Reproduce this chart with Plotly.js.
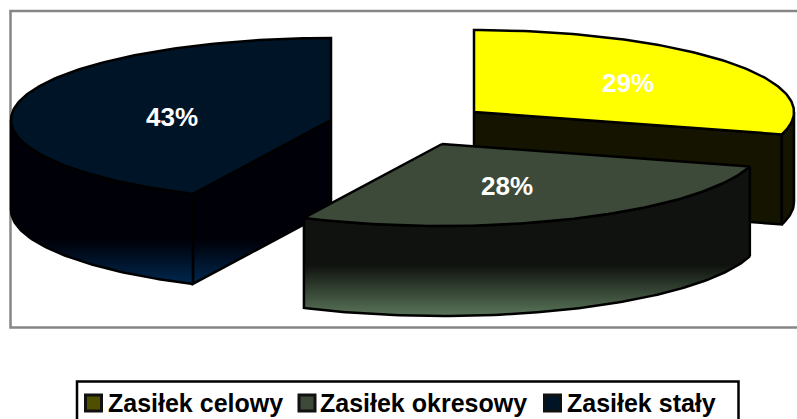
<!DOCTYPE html>
<html><head><meta charset="utf-8">
<script src="https://cdn.plot.ly/plotly-3.0.1.min.js"></script>
<style>html,body{margin:0;padding:0;background:#fff;overflow:hidden}#c{width:797px;height:419px}</style>
</head><body><div id="c"></div>
<script>
// Data
const categories = ['Zasiłek celowy', 'Zasiłek okresowy', 'Zasiłek stały'];
const shares = [29.4, 27.7, 42.9];
// Styles
const topColors = ['#ffff00', '#3d4a3a', '#001428'];
const swatchColors = ['#4f4f00', '#3d4a3a', '#001428'];
const wallDark = ['#141400', '#0f120e', '#000008'];
const wallLight = ['#141400', '#5a7559', '#00284f'];
const gradStart = [112, 265, 240];
const gradStop = [224, 316, 284];
// Layout of the exploded pie: one centre per slice, in pixel-like axis units
const centerX = [474, 442, 331];
const centerY = [112, 144, 120];
const Rx = 320, Ry = 82, depth = 90;
const labelX = [628, 507, 172];
const labelY = [83, 186, 117];
const legendSwatchX = [93.5, 307, 552.5];
const legendTextX = [106, 318, 565];
const legendY = 403;
const drawOrder = [2, 0, 1];

const total = shares.reduce((a, b) => a + b, 0);
const angles = [0];
shares.forEach((s, i) => angles.push(angles[i] + s / total * 360));

function arc(cx, cy, a0, a1) {
  const xs = [], ys = [], n = Math.max(2, Math.ceil(Math.abs(a1 - a0)));
  for (let k = 0; k <= n; k++) {
    const a = (a0 + (a1 - a0) * k / n) * Math.PI / 180;
    xs.push(cx + Rx * Math.sin(a));
    ys.push(cy - Ry * Math.cos(a));
  }
  return [xs, ys];
}
function wall(i, xs, ys) {
  return {
    type: 'scatter', mode: 'lines', x: xs, y: ys, fill: 'toself',
    fillgradient: {
      type: 'vertical', start: gradStart[i], stop: gradStop[i],
      colorscale: [[0, wallDark[i]], [1, wallLight[i]]]
    },
    line: {color: '#000', width: 2.5}, hoverinfo: 'skip', showlegend: false
  };
}
const traces = [];
drawOrder.forEach(i => {
  const cx = centerX[i], cy = centerY[i], a0 = angles[i], a1 = angles[i + 1];
  // cut faces that look towards the viewer
  [a0, a1].forEach(a => {
    if ((i === 0 && a === a1) || (i === 2 && a === a0)) {
      const [px, py] = arc(cx, cy, a, a);
      const ex = px[0], ey = py[0];
      traces.push(wall(i, [cx, ex, ex, cx, cx], [cy, ey, ey + depth, cy + depth, cy]));
    }
  });
  // outer rim, front half only
  const r0 = Math.max(a0, 90), r1 = Math.min(a1, 270);
  if (r1 > r0) {
    const [ax, ay] = arc(cx, cy, r0, r1);
    const xs = ax.concat(ax.slice().reverse(), [ax[0]]);
    const ys = ay.map(v => v + depth).concat(ay.slice().reverse(), [ay[0] + depth]);
    traces.push(wall(i, xs, ys));
  }
  // wedge top
  const [tx, ty] = arc(cx, cy, a0, a1);
  traces.push({
    type: 'scatter', mode: 'lines',
    x: [cx].concat(tx, [cx]), y: [cy].concat(ty, [cy]),
    fill: 'toself', fillcolor: topColors[i],
    line: {color: '#000', width: 2.5}, hoverinfo: 'skip', showlegend: false
  });
});
// legend swatches
traces.push({
  type: 'scatter', mode: 'markers', x: legendSwatchX, y: categories.map(() => legendY),
  marker: {symbol: 'square', size: 16, color: swatchColors, line: {color: '#111', width: 3}},
  hoverinfo: 'skip', showlegend: false
});
const annotations = [];
shares.forEach((s, i) => annotations.push({
  x: labelX[i], y: labelY[i], xref: 'x', yref: 'y', showarrow: false,
  text: '<b>' + Math.round(s) + '%</b>', font: {family: 'Liberation Sans', size: 26, color: '#fff'}
}));
categories.forEach((c, i) => annotations.push({
  x: legendTextX[i], y: legendY, xref: 'x', yref: 'y', xanchor: 'left', showarrow: false,
  text: '<b>' + c + '</b>', font: {family: 'Liberation Sans', size: 25, color: '#000'}
}));
const hidden = {visible: false, fixedrange: true};
Plotly.newPlot('c', traces, {
  width: 797, height: 419, margin: {l: 0, r: 0, t: 0, b: 0},
  paper_bgcolor: '#fff', plot_bgcolor: '#fff', showlegend: false,
  xaxis: Object.assign({range: [0, 797]}, hidden),
  yaxis: Object.assign({range: [419, 0]}, hidden),
  shapes: [
    {type: 'rect', xref: 'x', yref: 'y', x0: 10.5, x1: 800, y0: 11, y1: 327.5, layer: 'below',
     line: {color: '#868686', width: 2.5}},
    {type: 'rect', xref: 'x', yref: 'y', x0: 77, x1: 738.5, y0: 381.5, y1: 425, layer: 'below',
     line: {color: '#000', width: 2.5}}
  ],
  annotations: annotations
}, {displayModeBar: false, staticPlot: true});
</script></body></html>
